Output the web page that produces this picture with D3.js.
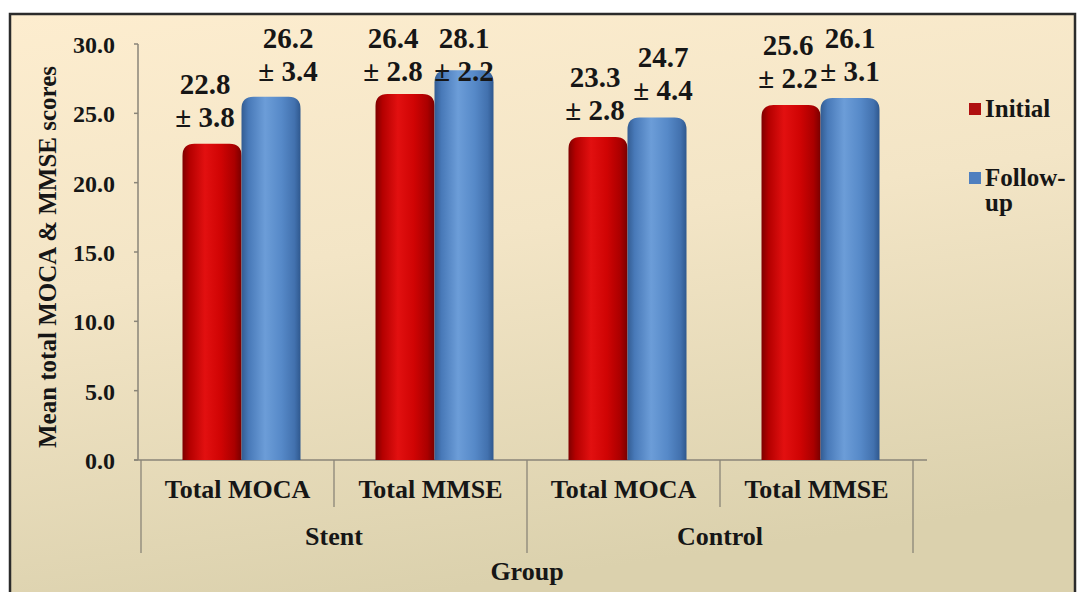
<!DOCTYPE html>
<html>
<head>
<meta charset="utf-8">
<script src="https://cdn.jsdelivr.net/npm/d3@7"></script>
<style>
  html, body { margin: 0; padding: 0; background: #ffffff; }
  svg { display: block; }
  text { font-family: "Liberation Serif", "Times New Roman", serif; font-weight: bold; fill: #161616; }
</style>
</head>
<body>
<svg id="chart" width="1078" height="592"></svg>
<script>
// ---- data ----
const groupNames = ["Stent", "Control"];
const measures = ["Total MOCA", "Total MMSE"];
const seriesNames = ["Initial", "Follow-up"];
const initialMean = [22.8, 26.4, 23.3, 25.6];
const initialSD = [3.8, 2.8, 2.8, 2.2];
const followMean = [26.2, 28.1, 24.7, 26.1];
const followSD = [3.4, 2.2, 4.4, 3.1];
const yTicks = [0, 5, 10, 15, 20, 25, 30];

// categories: each measure within each group
const categories = [];
groupNames.forEach(g => measures.forEach(m => categories.push({ group: g, measure: m })));

// small horizontal nudges applied to value labels (per category, per series)
const labelShift = [[-7, 17], [-12, 0], [-3, 6], [-3, 0]];

const svg = d3.select("#chart");

// ---- background & frame ----
const defs = svg.append("defs");
const bg = defs.append("linearGradient").attr("id", "bg")
  .attr("x1", "0").attr("y1", "0").attr("x2", "0.25").attr("y2", "1");
bg.append("stop").attr("offset", "0%").attr("stop-color", "#fdedcf");
bg.append("stop").attr("offset", "45%").attr("stop-color", "#f3e5c6");
bg.append("stop").attr("offset", "100%").attr("stop-color", "#dbd1ad");

svg.append("rect").attr("x", 10).attr("y", 14).attr("width", 1065).attr("height", 600)
  .attr("fill", "url(#bg)").attr("stroke", "#2b2b2b").attr("stroke-width", 2.5);

// bar gradients (cylindrical shading)
function barGradient(id, stops) {
  const g = defs.append("linearGradient").attr("id", id)
    .attr("x1", "0").attr("y1", "0").attr("x2", "1").attr("y2", "0");
  stops.forEach(([o, c]) => g.append("stop").attr("offset", o).attr("stop-color", c));
}
barGradient("gInitial", [["0%", "#7e0000"], ["12%", "#b40000"], ["38%", "#e21010"], ["65%", "#d00404"], ["88%", "#aa0000"], ["100%", "#7a0000"]]);
barGradient("gFollow", [["0%", "#335c92"], ["12%", "#4879b8"], ["40%", "#6c9dd8"], ["68%", "#5689c8"], ["90%", "#4271ae"], ["100%", "#2f588e"]]);
const fills = ["url(#gInitial)", "url(#gFollow)"];
const legendFills = ["#b01010", "#4f7fbf"];

// ---- scales ----
const y = d3.scaleLinear().domain([0, 30]).range([460, 44]);
const x0 = d3.scaleBand().domain(d3.range(categories.length)).range([141, 913]).paddingInner(0);
const groupWidth = 118;
const x1 = d3.scaleBand().domain(seriesNames).range([0, groupWidth]);
const barOffset = (x0.bandwidth() - groupWidth) / 2 + 4;

const axisColor = "#8a8578";

// ---- y axis ----
const yAxisG = svg.append("g").attr("transform", "translate(138,0)");
yAxisG.append("line").attr("x1", 0).attr("x2", 0).attr("y1", y(30)).attr("y2", y(0))
  .attr("stroke", axisColor).attr("stroke-width", 1.5);
yTicks.forEach(t => {
  yAxisG.append("line").attr("x1", -4).attr("x2", 0).attr("y1", y(t)).attr("y2", y(t))
    .attr("stroke", axisColor).attr("stroke-width", 1.5);
  yAxisG.append("text")
    .attr("x", -23).attr("y", y(t) + 9)
    .attr("text-anchor", "end").attr("font-size", 24)
    .text(d3.format(".1f")(t));
});

// y axis title
svg.append("text")
  .attr("transform", "translate(56,257) rotate(-90)")
  .attr("text-anchor", "middle").attr("font-size", 25)
  .text("Mean total MOCA & MMSE scores");

// ---- x axis ----
svg.append("line").attr("x1", 134).attr("x2", 927).attr("y1", y(0)).attr("y2", y(0))
  .attr("stroke", axisColor).attr("stroke-width", 1.5);
// dividers: short ones between measures, long ones between groups
d3.range(categories.length + 1).forEach(i => {
  const xx = i === categories.length ? x0.range()[1] : x0(i);
  const long = i % measures.length === 0;
  svg.append("line").attr("x1", xx).attr("x2", xx)
    .attr("y1", y(0)).attr("y2", long ? 553 : 507)
    .attr("stroke", axisColor).attr("stroke-width", 1.3);
});
categories.forEach((c, i) => {
  svg.append("text")
    .attr("x", x0(i) + x0.bandwidth() / 2).attr("y", 498)
    .attr("text-anchor", "middle").attr("font-size", 26)
    .text(c.measure);
});
groupNames.forEach((g, gi) => {
  const start = x0(gi * measures.length);
  const end = start + x0.bandwidth() * measures.length;
  svg.append("text")
    .attr("x", (start + end) / 2).attr("y", 545)
    .attr("text-anchor", "middle").attr("font-size", 26)
    .text(g);
});
svg.append("text")
  .attr("x", (x0.range()[0] + x0.range()[1]) / 2).attr("y", 580)
  .attr("text-anchor", "middle").attr("font-size", 26)
  .text("Group");

// ---- bars ----
function topRoundedBar(x, yTop, w, h, r) {
  r = Math.min(r, w / 2, h);
  return `M${x},${yTop + h} L${x},${yTop + r} Q${x},${yTop} ${x + r},${yTop} ` +
    `L${x + w - r},${yTop} Q${x + w},${yTop} ${x + w},${yTop + r} L${x + w},${yTop + h} Z`;
}
const rows = categories.map((c, i) => ({
  i,
  values: [
    { s: 0, mean: initialMean[i], sd: initialSD[i] },
    { s: 1, mean: followMean[i], sd: followSD[i] }
  ]
}));
const catG = svg.selectAll("g.cat").data(rows).join("g").attr("class", "cat")
  .attr("transform", d => `translate(${x0(d.i) + barOffset},0)`);
catG.selectAll("path.bar").data(d => d.values).join("path").attr("class", "bar")
  .attr("d", d => topRoundedBar(x1(seriesNames[d.s]), y(d.mean), x1.bandwidth(), y(0) - y(d.mean), 12))
  .attr("fill", d => fills[d.s]);

// ---- value labels (mean ± SD) ----
const labelTop = 39;
catG.each(function (row) {
  const g = d3.select(this);
  row.values.forEach(v => {
    const cx = x1(seriesNames[v.s]) + x1.bandwidth() / 2 + labelShift[row.i][v.s];
    const c1 = Math.max(labelTop, y(v.mean) - 59);
    const c2 = c1 + 33;
    g.append("text")
      .attr("x", cx).attr("y", c1 + 9)
      .attr("text-anchor", "middle").attr("font-size", 29)
      .text(d3.format(".1f")(v.mean));
    g.append("text")
      .attr("x", cx).attr("y", c2 + 9)
      .attr("text-anchor", "middle").attr("font-size", 29)
      .text("\u00b1 " + d3.format(".1f")(v.sd));
  });
});

// ---- legend ----
const legendY = [109, 178];
seriesNames.forEach((s, k) => {
  const lg = svg.append("g").attr("transform", `translate(969,${legendY[k]})`);
  lg.append("rect").attr("x", 0).attr("y", -6).attr("width", 12).attr("height", 12)
    .attr("fill", legendFills[k]);
  const label = s === "Follow-up" ? ["Follow-", "up"] : [s];
  label.forEach((line, li) => {
    lg.append("text")
      .attr("x", 16).attr("y", 8 + li * 25)
      .attr("font-size", 25)
      .text(line);
  });
});
</script>
</body>
</html>
